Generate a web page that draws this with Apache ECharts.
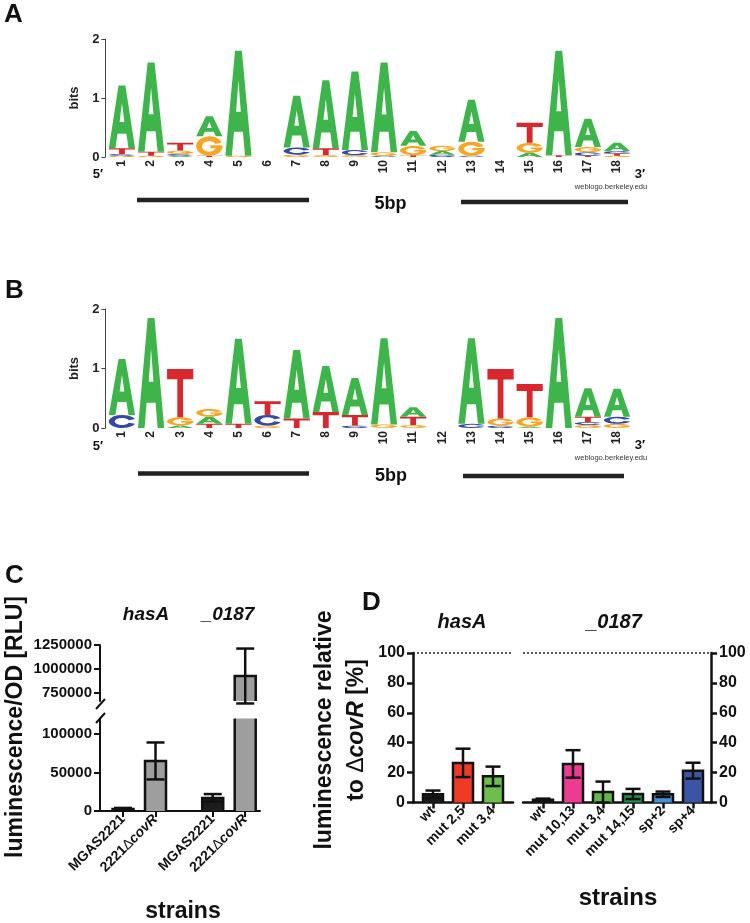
<!DOCTYPE html>
<html><head><meta charset="utf-8">
<script src="https://cdn.jsdelivr.net/npm/echarts@6/dist/echarts.min.js"></script>
<style>html,body{margin:0;padding:0;background:#fff}#c{width:750px;height:923px}</style>
</head><body><div id="c"></div>
<script>
// ================= DATA =================
const logoPositions = ['1','2','3','4','5','6','7','8','9','10','11','12','13','14','15','16','17','18'];
const logoYTicks = [0, 1, 2];
// each column: stack of [letter, bits], bottom -> top
const logoA = [
  [['G',0.02],['C',0.03],['T',0.10],['A',1.06]],
  [['G',0.02],['T',0.07],['A',1.51]],
  [['A',0.02],['C',0.03],['G',0.06],['T',0.13]],
  [['T',0.02],['G',0.33],['A',0.34]],
  [['G',0.02],['A',1.78]],
  [],
  [['G',0.04],['C',0.12],['A',0.88]],
  [['G',0.03],['T',0.12],['A',1.15]],
  [['G',0.03],['C',0.09],['A',1.33]],
  [['C',0.02],['G',0.06],['A',1.52]],
  [['T',0.03],['G',0.16],['A',0.25]],
  [['C',0.04],['A',0.06],['G',0.09]],
  [['C',0.02],['G',0.24],['A',0.71]],
  [],
  [['A',0.07],['G',0.17],['T',0.34]],
  [['T',0.03],['A',1.77]],
  [['T',0.02],['C',0.06],['G',0.09],['A',0.48]],
  [['G',0.02],['T',0.04],['C',0.04],['A',0.14]]
];
const logoB = [
  [['C',0.22],['A',0.94]],
  [['A',1.85]],
  [['A',0.04],['G',0.14],['T',0.81]],
  [['T',0.07],['A',0.12],['G',0.13]],
  [['T',0.07],['A',1.43]],
  [['G',0.04],['C',0.18],['T',0.23]],
  [['T',0.16],['A',1.15]],
  [['T',0.27],['A',0.77]],
  [['C',0.04],['T',0.18],['A',0.62]],
  [['G',0.06],['A',1.45]],
  [['G',0.05],['T',0.14],['A',0.16]],
  [],
  [['C',0.07],['A',1.44]],
  [['C',0.04],['G',0.12],['T',0.83]],
  [['A',0.02],['G',0.16],['T',0.56]],
  [['A',1.85]],
  [['G',0.05],['C',0.05],['T',0.09],['A',0.48]],
  [['G',0.07],['C',0.12],['A',0.47]]
];

const cStrains = ['MGAS2221', '2221\u0394covR', 'MGAS2221', '2221\u0394covR'];
const cGenes = ['hasA', '_0187'];
const cGeneOfBar = [0, 0, 1, 1];
const cMeans = [2500, 65000, 17000, 927000];
const cSD = [1500, 24000, 5000, 286000];
const cYTicksUpper = [750000, 1000000, 1250000];
const cYTicksLower = [0, 50000, 100000];

const dHasAStrains = ['wt', 'mut 2,5', 'mut 3,4'];
const dHasAMeans = [5.5, 26.5, 17.5];
const dHasASD = [2.5, 9.5, 6.5];
const d0187Strains = ['wt', 'mut 10,13', 'mut 3,4', 'mut 14,15', 'sp+2', 'sp+4'];
const d0187Means = [1.8, 25.8, 7.0, 5.7, 5.5, 21.3];
const d0187SD = [0.8, 9.2, 7.0, 3.4, 1.8, 5.3];
const dYTicks = [0, 20, 40, 60, 80, 100];
const dReference = 100;

// ================= STYLE =================
const FONT = '"Liberation Sans", Arial, Helvetica, sans-serif';
const LETTERS = 'ACGT';
const LETTER_COLORS = ['#3db54a', '#3548a8', '#f6a623', '#d8272d'];
const GLYPHS = [
  'M0 100 L37 0 L63 0 L100 100 L75 100 L67 77 L33 77 L25 100 Z M41 58 L59 58 L50 28 Z',
  'M95 32 A48 50 0 1 0 95 68 L73 60 A26 27 0 1 1 73 40 Z',
  'M95 32 A48 50 0 1 0 98 58 L98 46 L54 46 L54 62 L74 62 A26 27 0 1 1 73 40 Z',
  'M0 0 L100 0 L100 21 L61 21 L61 100 L39 100 L39 21 L0 21 Z'
];
const cColors = ['#1c1c1c', '#9e9e9e', '#1c1c1c', '#9e9e9e'];
const dHasAColors = ['#1a1a1a', '#ef3b25', '#6cbf4b'];
const d0187Colors = ['#1a1a1a', '#ec3b93', '#62b947', '#1d9150', '#4a8fd4', '#3a55a5'];
const C_GROUP_GAP = 0.76;

// ================= BUILD =================
function logoData(cols) {
  const out = [];
  cols.forEach((stack, i) => {
    let y = 0;
    stack.forEach(([L, h]) => { out.push([i, y, y + h, LETTERS.indexOf(L)]); y += h; });
  });
  return out;
}
function renderLetter(params, api) {
  const i = api.value(0), y0 = api.value(1), y1 = api.value(2), li = api.value(3);
  const t = api.coord([i, y1]), b = api.coord([i, y0]);
  const bw = api.size([1, 0])[0] * 0.9;
  const h = b[1] - t[1];
  if (h < 0.3) return null;
  return {
    type: 'path',
    shape: { pathData: GLYPHS[li], layout: 'cover', x: t[0] - bw / 2, y: t[1], width: bw, height: h },
    style: { fill: LETTER_COLORS[li] }
  };
}
function barRenderer(lo, hi, colors, width, cap, lw) {
  return function (params, api) {
    const x = api.value(0), m = api.value(1), sd = api.value(2), ci = api.value(3);
    if (m < lo) return null;
    const top = Math.min(m, hi);
    const base = Math.max(0, lo);
    const pT = api.coord([x, top]), pB = api.coord([x, base]);
    const xl = pT[0] - width / 2, xr = pT[0] + width / 2;
    const ch = [{ type: 'rect', shape: { x: xl, y: pT[1], width: width, height: pB[1] - pT[1] }, style: { fill: colors[ci] } }];
    const ls = { stroke: '#111', lineWidth: lw, fill: null };
    if (m <= hi) {
      ch.push({ type: 'polyline', shape: { points: [[xl, pB[1]], [xl, pT[1]], [xr, pT[1]], [xr, pB[1]]] }, style: ls });
      const pu = api.coord([x, m + sd]), pl = api.coord([x, Math.max(0, m - sd)]);
      ch.push({ type: 'line', shape: { x1: pT[0], y1: pu[1], x2: pT[0], y2: pl[1] }, style: ls });
      ch.push({ type: 'line', shape: { x1: pT[0] - cap / 2, y1: pu[1], x2: pT[0] + cap / 2, y2: pu[1] }, style: ls });
      ch.push({ type: 'line', shape: { x1: pT[0] - cap / 2, y1: pl[1], x2: pT[0] + cap / 2, y2: pl[1] }, style: ls });
    } else {
      ch.push({ type: 'line', shape: { x1: xl, y1: pB[1], x2: xl, y2: pT[1] }, style: ls });
      ch.push({ type: 'line', shape: { x1: xr, y1: pB[1], x2: xr, y2: pT[1] }, style: ls });
    }
    return { type: 'group', children: ch };
  };
}

const cX = cMeans.map((v, k) => k + cGeneOfBar[k] * C_GROUP_GAP);
const cData = cMeans.map((v, k) => [cX[k], v, cSD[k], k]);
const dHasAX = dHasAMeans.map((v, k) => k);
const d0187X = d0187Means.map((v, k) => k);
const dHasAData = dHasAMeans.map((v, k) => [k, v, dHasASD[k], k]);
const d0187Data = d0187Means.map((v, k) => [k, v, d0187SD[k], k]);

function labelFor(xs, names) {
  return function (val) {
    for (let i = 0; i < xs.length; i++) if (Math.abs(xs[i] - val) < 1e-6) return names[i];
    return '';
  };
}
const covRich = {
  d: { fontFamily: FONT, fontWeight: 'normal', fontSize: 14, color: '#111' },
  i: { fontFamily: FONT, fontWeight: 'bold', fontStyle: 'italic', fontSize: 14, color: '#111' }
};
function richStrain(s) { return s.replace('\u0394covR', '{d|\u0394}{i|covR}'); }
const plainNum = (v) => String(Math.round(v));

const logoYAxis = (gi) => ({
  gridIndex: gi, type: 'value', min: 0, max: 2, interval: 1, offset: 2,
  name: 'bits', nameLocation: 'middle', nameRotate: 90, nameGap: 14,
  nameTextStyle: { fontFamily: FONT, fontWeight: 'bold', fontSize: 13, color: '#222' },
  axisLine: { show: true, onZero: false, lineStyle: { color: '#444', width: 1 } },
  axisTick: { show: true, length: 4, lineStyle: { color: '#444', width: 1 } },
  axisLabel: { fontFamily: FONT, fontWeight: 'bold', fontSize: 13, color: '#222', margin: 6 },
  splitLine: { show: false }
});
const logoXAxis = (gi) => ({
  gridIndex: gi, type: 'category', data: logoPositions, boundaryGap: true,
  axisLine: { show: false }, axisTick: { show: false },
  axisLabel: { rotate: 90, fontFamily: FONT, fontWeight: 'bold', fontSize: 12, color: '#222', margin: 3 }
});

const option = {
  animation: false,
  backgroundColor: '#fff',
  grid: [
    { left: 107.4, top: 39, width: 524.2, height: 118 },
    { left: 107.4, top: 309, width: 524.2, height: 119 },
    { left: 100, top: 645, width: 160, height: 56 },
    { left: 100, top: 718.6, width: 160, height: 92.4 },
    { left: 413, top: 653, width: 100, height: 149.5 },
    { left: 523, top: 653, width: 188, height: 149.5 }
  ],
  xAxis: [
    logoXAxis(0), logoXAxis(1),
    { gridIndex: 2, type: 'value', min: -0.708, max: 4.215, show: false },
    { gridIndex: 3, type: 'value', min: -0.708, max: 4.215, splitLine: { show: false },
      axisLine: { show: true, onZero: false, lineStyle: { color: '#111', width: 2 } },
      axisTick: { show: true, customValues: cX, length: 6, lineStyle: { color: '#111', width: 2 } },
      axisLabel: { customValues: cX, rotate: 45, margin: 6, fontFamily: FONT, fontWeight: 'bold', fontSize: 14, color: '#111',
        formatter: (v) => richStrain(labelFor(cX, cStrains)(v)), rich: covRich } },
    { gridIndex: 4, type: 'value', min: -0.6667, max: 2.6667, splitLine: { show: false },
      axisLine: { show: true, onZero: false, lineStyle: { color: '#111', width: 2.5 } },
      axisTick: { show: true, customValues: dHasAX, length: 6, lineStyle: { color: '#111', width: 2.5 } },
      axisLabel: { customValues: dHasAX, rotate: 45, margin: 6, fontFamily: FONT, fontWeight: 'bold', fontSize: 14, color: '#111',
        formatter: labelFor(dHasAX, dHasAStrains) } },
    { gridIndex: 5, type: 'value', min: -0.6667, max: 5.6, splitLine: { show: false },
      axisLine: { show: true, onZero: false, lineStyle: { color: '#111', width: 2.5 } },
      axisTick: { show: true, customValues: d0187X, length: 6, lineStyle: { color: '#111', width: 2.5 } },
      axisLabel: { customValues: d0187X, rotate: 45, margin: 6, fontFamily: FONT, fontWeight: 'bold', fontSize: 14, color: '#111',
        formatter: labelFor(d0187X, d0187Strains) } }
  ],
  yAxis: [
    logoYAxis(0), logoYAxis(1),
    { gridIndex: 2, type: 'value', min: 666667, max: 1250000, splitLine: { show: false },
      axisLine: { show: true, onZero: false, lineStyle: { color: '#111', width: 2 } },
      axisTick: { show: true, customValues: cYTicksUpper, length: 6, lineStyle: { color: '#111', width: 2 } },
      axisLabel: { customValues: cYTicksUpper, formatter: plainNum, margin: 8, fontFamily: FONT, fontWeight: 'bold', fontSize: 15, color: '#111' } },
    { gridIndex: 3, type: 'value', min: 0, max: 120000, splitLine: { show: false },
      axisLine: { show: true, onZero: false, lineStyle: { color: '#111', width: 2 } },
      axisTick: { show: true, customValues: cYTicksLower, length: 6, lineStyle: { color: '#111', width: 2 } },
      axisLabel: { customValues: cYTicksLower, formatter: plainNum, margin: 8, fontFamily: FONT, fontWeight: 'bold', fontSize: 15, color: '#111' } },
    { gridIndex: 4, type: 'value', min: 0, max: 100, interval: 20, position: 'left', splitLine: { show: false },
      axisLine: { show: true, onZero: false, lineStyle: { color: '#111', width: 2.5 } },
      axisTick: { show: true, length: 6, lineStyle: { color: '#111', width: 2.5 } },
      axisLabel: { margin: 8, fontFamily: FONT, fontWeight: 'bold', fontSize: 16, color: '#111' } },
    { gridIndex: 5, type: 'value', min: 0, max: 100, interval: 20, position: 'right', splitLine: { show: false },
      axisLine: { show: true, onZero: false, lineStyle: { color: '#111', width: 2.5 } },
      axisTick: { show: true, length: 6, lineStyle: { color: '#111', width: 2.5 } },
      axisLabel: { margin: 8, fontFamily: FONT, fontWeight: 'bold', fontSize: 16, color: '#111' } }
  ],
  series: [
    { type: 'custom', name: 'logoA', xAxisIndex: 0, yAxisIndex: 0, data: logoData(logoA), renderItem: renderLetter, encode: { x: 0, y: [1, 2] }, silent: true },
    { type: 'custom', name: 'logoB', xAxisIndex: 1, yAxisIndex: 1, data: logoData(logoB), renderItem: renderLetter, encode: { x: 0, y: [1, 2] }, silent: true },
    { type: 'custom', name: 'C upper', xAxisIndex: 2, yAxisIndex: 2, data: cData, encode: { x: 0, y: 1 },
      renderItem: barRenderer(666667, 1250000, cColors, 21, 18, 2.5), silent: true },
    { type: 'custom', name: 'C lower', xAxisIndex: 3, yAxisIndex: 3, data: cData, encode: { x: 0, y: 1 },
      renderItem: barRenderer(0, 120000, cColors, 21, 18, 2.5), silent: true },
    { type: 'custom', name: 'D hasA', xAxisIndex: 4, yAxisIndex: 4, data: dHasAData, encode: { x: 0, y: 1 },
      renderItem: barRenderer(0, 100, dHasAColors, 20, 15, 2.5), silent: true,
      markLine: { silent: true, symbol: 'none', label: { show: false }, lineStyle: { type: [2, 2], color: '#222', width: 1.5 }, data: [{ yAxis: dReference }] } },
    { type: 'custom', name: 'D 0187', xAxisIndex: 5, yAxisIndex: 5, data: d0187Data, encode: { x: 0, y: 1 },
      renderItem: barRenderer(0, 100, d0187Colors, 20, 15, 2.5), silent: true,
      markLine: { silent: true, symbol: 'none', label: { show: false }, lineStyle: { type: [2, 2], color: '#222', width: 1.5 }, data: [{ yAxis: dReference }] } }
  ],
  graphic: [
    // panel letters
    { type: 'text', left: 4, top: 2, style: { text: 'A', font: 'bold 26px ' + FONT, fill: '#111' } },
    { type: 'text', left: 5, top: 278, style: { text: 'B', font: 'bold 26px ' + FONT, fill: '#111' } },
    { type: 'text', left: 5, top: 563, style: { text: 'C', font: 'bold 26px ' + FONT, fill: '#111' } },
    { type: 'text', left: 362, top: 590, style: { text: 'D', font: 'bold 26px ' + FONT, fill: '#111' } },
    // logo A annotations
    { type: 'text', x: 98, y: 174, style: { text: '5\u2032', font: 'bold 13px ' + FONT, fill: '#111', textAlign: 'center', textVerticalAlign: 'middle' } },
    { type: 'text', x: 640, y: 174, style: { text: '3\u2032', font: 'bold 13px ' + FONT, fill: '#111', textAlign: 'center', textVerticalAlign: 'middle' } },
    { type: 'text', x: 611, y: 187, style: { text: 'weblogo.berkeley.edu', font: '7.5px ' + FONT, fill: '#333', textAlign: 'center', textVerticalAlign: 'middle' } },
    { type: 'text', x: 390.5, y: 204, style: { text: '5bp', font: 'bold 18px ' + FONT, fill: '#111', textAlign: 'center', textVerticalAlign: 'middle' } },
    { type: 'line', shape: { x1: 137, y1: 200, x2: 309, y2: 200 }, style: { stroke: '#222', lineWidth: 4.5 } },
    { type: 'line', shape: { x1: 461, y1: 202, x2: 628, y2: 202 }, style: { stroke: '#222', lineWidth: 4.5 } },
    // logo B annotations
    { type: 'text', x: 98, y: 446, style: { text: '5\u2032', font: 'bold 13px ' + FONT, fill: '#111', textAlign: 'center', textVerticalAlign: 'middle' } },
    { type: 'text', x: 640, y: 445, style: { text: '3\u2032', font: 'bold 13px ' + FONT, fill: '#111', textAlign: 'center', textVerticalAlign: 'middle' } },
    { type: 'text', x: 611, y: 458, style: { text: 'weblogo.berkeley.edu', font: '7.5px ' + FONT, fill: '#333', textAlign: 'center', textVerticalAlign: 'middle' } },
    { type: 'text', x: 391, y: 476, style: { text: '5bp', font: 'bold 18px ' + FONT, fill: '#111', textAlign: 'center', textVerticalAlign: 'middle' } },
    { type: 'line', shape: { x1: 138, y1: 473.5, x2: 309, y2: 473.5 }, style: { stroke: '#222', lineWidth: 4.5 } },
    { type: 'line', shape: { x1: 463, y1: 476, x2: 624, y2: 476 }, style: { stroke: '#222', lineWidth: 4.5 } },
    // panel C
    { type: 'text', x: 146, y: 615, style: { text: cGenes[0], font: 'italic bold 19px ' + FONT, fill: '#111', textAlign: 'center', textVerticalAlign: 'middle' } },
    { type: 'text', x: 228, y: 615, style: { text: cGenes[1], font: 'italic bold 19px ' + FONT, fill: '#111', textAlign: 'center', textVerticalAlign: 'middle' } },
    { type: 'text', x: 16, y: 727, rotation: Math.PI / 2, style: { text: 'luminescence/OD [RLU]', font: 'bold 23px ' + FONT, fill: '#111', textAlign: 'center', textVerticalAlign: 'middle' } },
    { type: 'text', x: 183, y: 912, style: { text: 'strains', font: 'bold 23px ' + FONT, fill: '#111', textAlign: 'center', textVerticalAlign: 'middle' } },
    { type: 'line', shape: { x1: 96, y1: 709, x2: 105, y2: 699 }, style: { stroke: '#111', lineWidth: 2 } },
    { type: 'line', shape: { x1: 96, y1: 723, x2: 105, y2: 713 }, style: { stroke: '#111', lineWidth: 2 } },
    // panel D
    { type: 'text', x: 462, y: 622, style: { text: cGenes[0], font: 'italic bold 20px ' + FONT, fill: '#111', textAlign: 'center', textVerticalAlign: 'middle' } },
    { type: 'text', x: 614, y: 622, style: { text: cGenes[1], font: 'italic bold 20px ' + FONT, fill: '#111', textAlign: 'center', textVerticalAlign: 'middle' } },
    { type: 'text', x: 325, y: 730, rotation: Math.PI / 2, style: { text: 'luminescence relative', font: 'bold 23px ' + FONT, fill: '#111', textAlign: 'center', textVerticalAlign: 'middle' } },
    { type: 'text', x: 357, y: 730, rotation: Math.PI / 2, style: { text: 'to {d|\u0394}{i|covR} [%]', font: 'bold 23px ' + FONT, fill: '#111', textAlign: 'center', textVerticalAlign: 'middle',
        rich: { d: { fontFamily: FONT, fontWeight: 'normal', fontSize: 23, fill: '#111' }, i: { fontFamily: FONT, fontWeight: 'bold', fontStyle: 'italic', fontSize: 23, fill: '#111' } } } },
    { type: 'text', x: 618, y: 898, style: { text: 'strains', font: 'bold 24px ' + FONT, fill: '#111', textAlign: 'center', textVerticalAlign: 'middle' } }
  ]
};
const chart = echarts.init(document.getElementById('c'), null, { width: 750, height: 923 });
chart.setOption(option);
</script>
</body></html>
